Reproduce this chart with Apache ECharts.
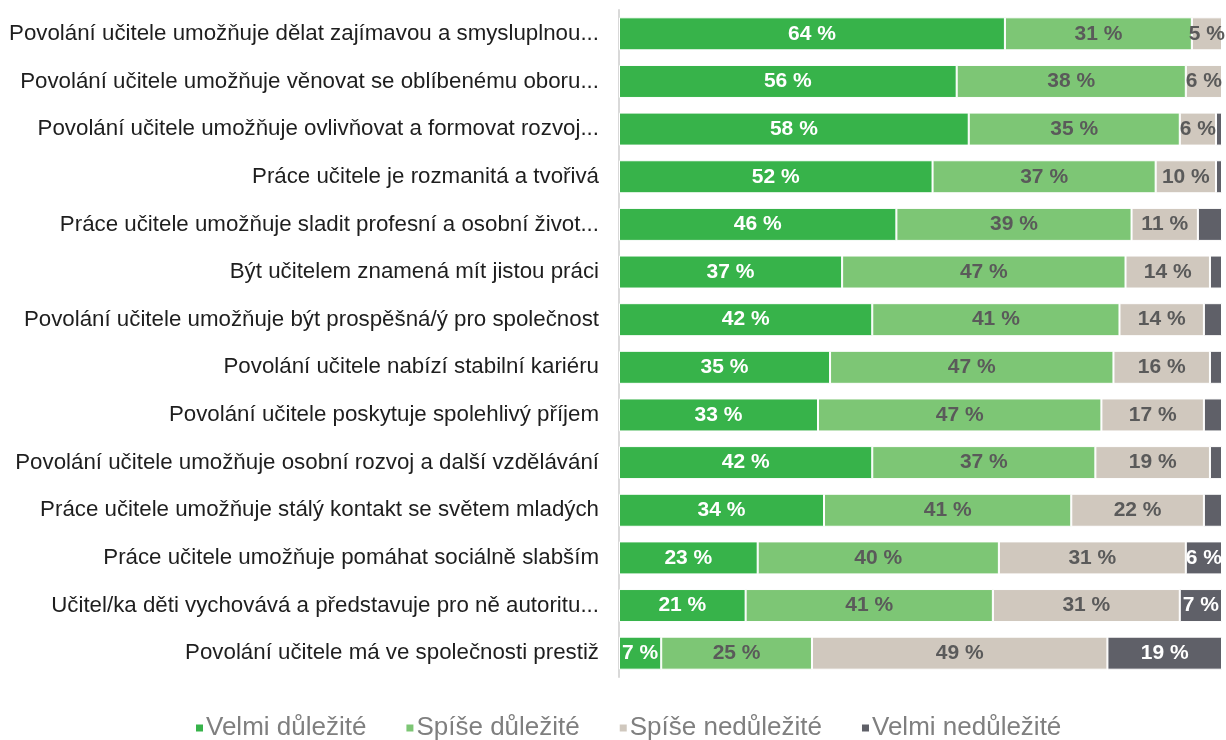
<!DOCTYPE html>
<html>
<head>
<meta charset="utf-8">
<script src="https://cdn.jsdelivr.net/npm/echarts@6/dist/echarts.min.js"></script>
<style>
  html, body { margin: 0; padding: 0; background: #ffffff; }
  #chart { width: 1226px; height: 740px; }
</style>
</head>
<body>
<div id="chart"></div>
<script>
// Statements about the teaching profession, top to bottom
const categories = [
  'Povolání učitele umožňuje dělat zajímavou a smysluplnou...',
  'Povolání učitele umožňuje věnovat se oblíbenému oboru...',
  'Povolání učitele umožňuje ovlivňovat a formovat rozvoj...',
  'Práce učitele je rozmanitá a tvořivá',
  'Práce učitele umožňuje sladit profesní a osobní život...',
  'Být učitelem znamená mít jistou práci',
  'Povolání učitele umožňuje být prospěšná/ý pro společnost',
  'Povolání učitele nabízí stabilní kariéru',
  'Povolání učitele poskytuje spolehlivý příjem',
  'Povolání učitele umožňuje osobní rozvoj a další vzdělávání',
  'Práce učitele umožňuje stálý kontakt se světem mladých',
  'Práce učitele umožňuje pomáhat sociálně slabším',
  'Učitel/ka děti vychovává a představuje pro ně autoritu...',
  'Povolání učitele má ve společnosti prestiž'
];

// Shares of answers in percent
const velmiDulezite    = [64, 56, 58, 52, 46, 37, 42, 35, 33, 42, 34, 23, 21, 7];
const spiseDulezite    = [31, 38, 35, 37, 39, 47, 41, 47, 47, 37, 41, 40, 41, 25];
const spiseNedulezite  = [5, 6, 6, 10, 11, 14, 14, 16, 17, 19, 22, 31, 31, 49];
const velmiNedulezite  = [0, 0, 1, 1, 4, 2, 3, 2, 3, 2, 3, 6, 7, 19];

const seriesNames = ['Velmi důležité', 'Spíše důležité', 'Spíše nedůležité', 'Velmi nedůležité'];
const seriesColors = ['#37b34a', '#7dc675', '#d0c8be', '#5f6068'];
const labelColors = ['#ffffff', '#5a5a5a', '#5a5a5a', '#ffffff'];
const seriesData = [velmiDulezite, spiseDulezite, spiseNedulezite, velmiNedulezite];

const chart = echarts.init(document.getElementById('chart'), null, { renderer: 'canvas' });

const series = seriesNames.map((name, i) => ({
  name: name,
  type: 'bar',
  stack: 'total',
  barWidth: 33,
  data: seriesData[i],
  itemStyle: {
    color: seriesColors[i],
    borderColor: '#ffffff',
    borderWidth: 1
  },
  label: {
    show: true,
    position: 'inside',
    color: labelColors[i],
    fontFamily: 'Liberation Sans, Arial, sans-serif',
    fontWeight: 'bold',
    fontSize: 21,
    formatter: p => (p.value >= 5 ? p.value + ' %' : '')
  },
  emphasis: { disabled: true }
}));

chart.setOption({
  animation: false,
  grid: { left: 619, right: 4, top: 10, bottom: 63, containLabel: false },
  legend: {
    bottom: -6,
    left: 189,
    itemWidth: 9,
    itemHeight: 9,
    itemGap: 38,
    icon: 'rect',
    textStyle: {
      color: '#7f7f7f',
      fontFamily: 'Liberation Sans, Arial, sans-serif',
      fontSize: 26,
      padding: [0, 0, 0, -3]
    },
    data: seriesNames
  },
  xAxis: {
    type: 'value',
    min: 0,
    max: 100,
    show: false
  },
  yAxis: {
    type: 'category',
    inverse: true,
    data: categories,
    axisLine: { show: true, lineStyle: { color: '#d9d9d9', width: 2 } },
    axisTick: { show: false },
    axisLabel: {
      color: '#1e1e1e',
      fontFamily: 'Liberation Sans, Arial, sans-serif',
      fontSize: 22.3,
      margin: 20
    }
  },
  series: series
});
</script>
</body>
</html>
